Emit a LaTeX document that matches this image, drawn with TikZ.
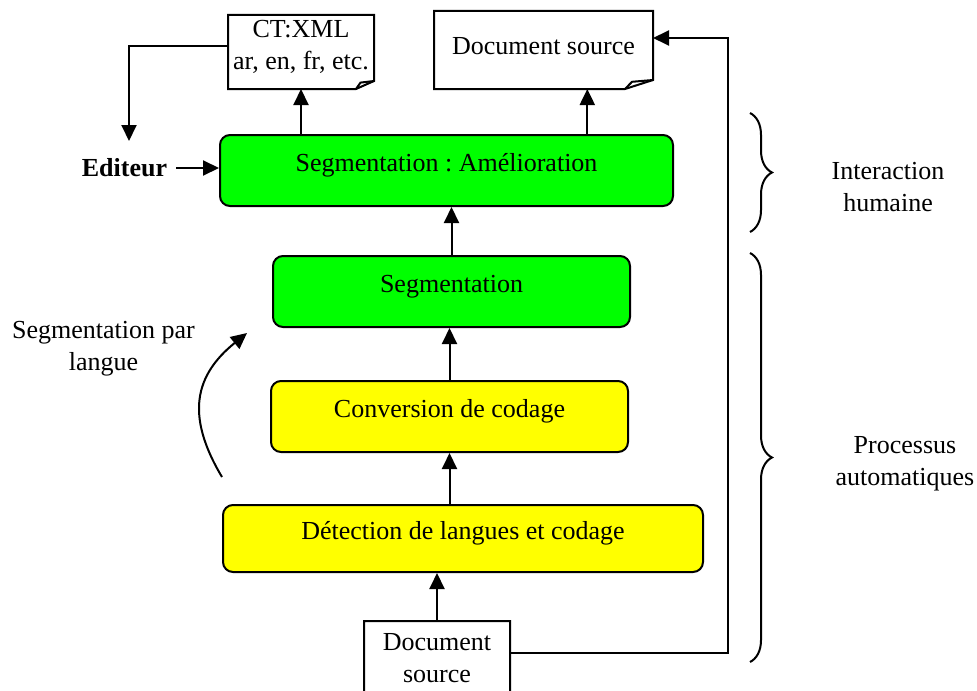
\documentclass[tikz,border=0pt]{standalone}
\usepackage{fontspec}
\setmainfont{Liberation Serif}
\usetikzlibrary{arrows.meta,calc,decorations.pathreplacing}
\frenchspacing

\definecolor{stagegreen}{RGB}{0,255,0}
\definecolor{stageyellow}{RGB}{255,255,0}

% outline of a document with its folded corner
\newcommand{\docfold}[3]{%
	\draw (#1.north west) -- (#1.north east) -- ([yshift=#3]#1.south east) -- ([xshift=-#2]#1.south east) -- (#1.south west) -- cycle;
	\draw ([xshift=-#2]#1.south east) -- ([xshift=-0.75*#2,yshift=0.8*#3]#1.south east) -- ([yshift=#3]#1.south east);
}

\begin{document}
\begin{tikzpicture}[x=0.5pt,y=-0.5pt,line width=1pt,
		every node/.style={font=\fontsize{13}{16}\selectfont},
		stage/.style={draw,rounded corners=5pt,text height=9pt,text depth=8pt,inner sep=0pt},
		green stage/.style={stage,fill=stagegreen},
		yellow stage/.style={stage,fill=stageyellow},
		docnote/.style={inner sep=0pt,align=center},
		arr/.style={-{Triangle[length=8pt,width=7.5pt]}}]
	\useasboundingbox (0,0) rectangle (977,690);

	\node[green stage,minimum width=226.5pt,minimum height=35.5pt] (ameli) at (446.5,170.5) {Segmentation : Amélioration};
	\node[green stage,minimum width=178.5pt,minimum height=35.5pt] (seg) at (451.5,291.5) {Segmentation};
	\node[yellow stage,minimum width=178.5pt,minimum height=35.5pt] (conv) at (449.5,416.5) {Conversion de codage};
	\node[yellow stage,minimum width=240pt,minimum height=33.5pt] (detect) at (463,538.5) {Détection de langues et codage};

	\node[docnote,minimum width=72pt,minimum height=36pt,text depth=7pt] (ctxml) at (301,52) {CT:XML\\ar, en, fr, etc.};
	\docfold{ctxml}{9pt}{4pt}
	\node[docnote,minimum width=108.5pt,minimum height=38pt,text depth=4pt] (docsrc) at (543.5,50) {Document source};
	\docfold{docsrc}{14pt}{4.5pt}
	\node[docnote,minimum width=72pt,minimum height=39pt,text depth=3.5pt] (docbot) at (437,661) {Document\\source};
	\docfold{docbot}{9pt}{4pt}

	\node[font=\fontsize{13}{16}\selectfont\bfseries,inner sep=4pt] (editeur) at (124.5,168) {Editeur};
	\node[align=center] (seglang) at (103.5,349) {Segmentation par\\langue};
	\node[align=center] (interact) at (888,187) {Interaction\\humaine};
	\node[align=center] (auto) at (905,464) {Processus\\automatiques};

	\coordinate (edtop) at (129,141);
	\coordinate (loop) at (728,38);
	\coordinate (docin) at ($(docsrc.south west)!0.7!(docsrc.south east)$);
	\coordinate (langfrom) at (222,477);
	\coordinate (langto) at (247,333);

	\draw[arr] (ameli.north -| ctxml.south) -- (ctxml.south);
	\draw[arr] (docin |- ameli.north) -- (docin);
	\draw[arr] (seg.north) -- (seg.north |- ameli.south);
	\draw[arr] (conv.north) -- (conv.north |- seg.south);
	\draw[arr] (conv.south |- detect.north) -- (conv.south);
	\draw[arr] (docbot.north) -- (docbot.north |- detect.south);
	\draw[arr] ([yshift=4pt]docbot.east) -| (loop) -- ([yshift=6pt]docsrc.east);
	\draw[arr] ([yshift=3pt]ctxml.west) -| (edtop);
	\draw[arr] (editeur.east) -- (editeur.east -| ameli.west);
	\draw[arr] (langfrom) .. controls (185,415) and (195,375) .. (langto);

	\draw[decorate,decoration={brace,amplitude=11pt}] (750,113) -- (750,232);
	\draw[decorate,decoration={brace,amplitude=11pt}] (750,253) -- (750,662);
\end{tikzpicture}
\end{document}
